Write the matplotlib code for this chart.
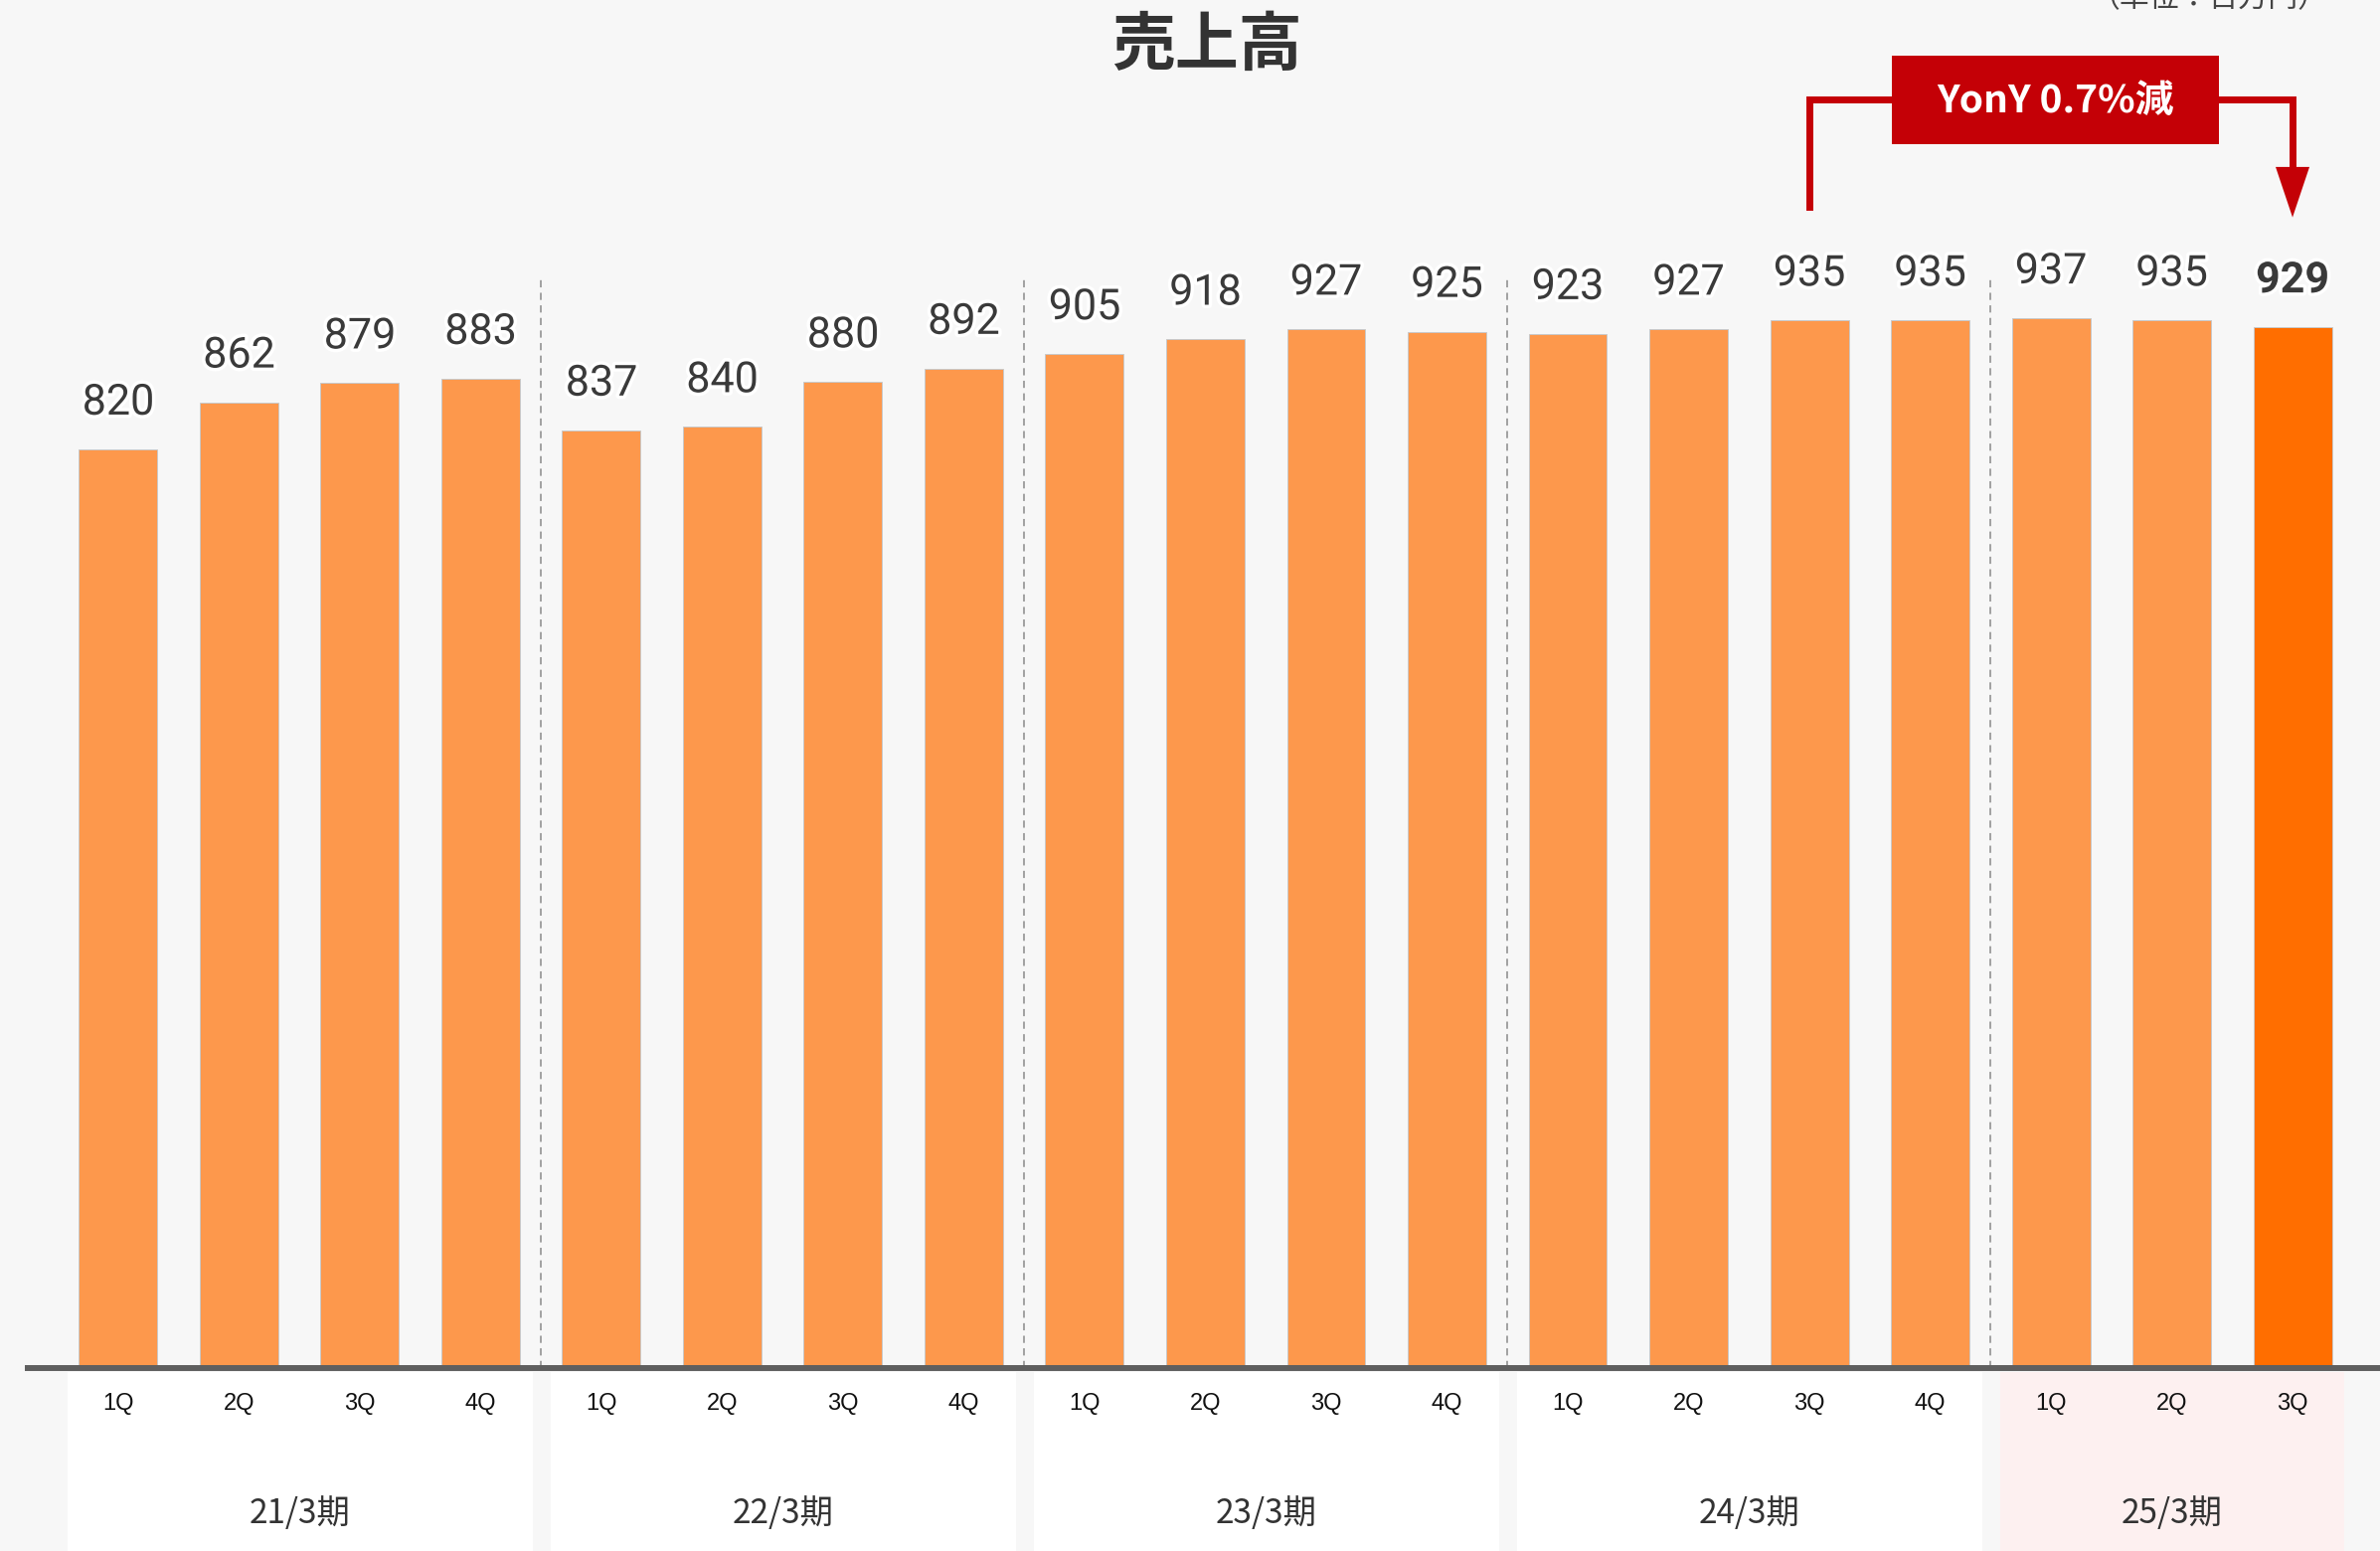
import matplotlib.pyplot as plt
import matplotlib.patheffects as pe
from matplotlib.patches import Rectangle, Polygon

# data
years = ["21/3期", "22/3期", "23/3期", "24/3期", "25/3期"]
quarters = ["1Q", "2Q", "3Q", "4Q",
            "1Q", "2Q", "3Q", "4Q",
            "1Q", "2Q", "3Q", "4Q",
            "1Q", "2Q", "3Q", "4Q",
            "1Q", "2Q", "3Q"]
sales = [820, 862, 879, 883,
         837, 840, 880, 892,
         905, 918, 927, 925,
         923, 927, 935, 935,
         937, 935, 929]
year_sizes = [4, 4, 4, 4, 3]
yoy_text = "YonY 0.7%減"
title = "売上高"
unit = "（単位：百万円）"

BG = "#f7f7f7"
BAR = "#fd984c"
BAR_HL = "#ff6e00"
RED = "#c40006"
JP = ["Noto Sans CJK JP", "DejaVu Sans"]

fig = plt.figure(figsize=(23.94, 15.6), dpi=100, facecolor=BG)
ax = fig.add_axes([0, 0, 1, 1])
ax.set_facecolor(BG)
ax.set_xlim(-0.979, 18.724)
ax.set_ylim(-163.3, 1221)
ax.axis("off")

x = list(range(len(sales)))
colors = [BAR] * (len(sales) - 1) + [BAR_HL]
ax.bar(x, sales, width=0.65, color=colors, edgecolor="#c9c9c9", linewidth=0.7, zorder=2)

# value labels
outline = [pe.withStroke(linewidth=5, foreground="white")]
for i, v in enumerate(sales):
    last = i == len(sales) - 1
    ax.text(i, v + 31, str(v), ha="center", va="baseline", fontsize=31,
            family="Roboto", fontweight="bold" if last else "normal",
            color="#3a3a3a", path_effects=outline, zorder=4)

# fiscal year boxes and labels
start = 0
for k, (name, n) in enumerate(zip(years, year_sizes)):
    x0 = start - 0.42
    x1 = start + n - 1 + 0.43
    fc = "#fdf0f0" if k == len(years) - 1 else "white"
    ax.add_patch(Rectangle((x0, -163.3), x1 - x0, 159.8, facecolor=fc,
                           edgecolor="none", zorder=1))
    ax.text(start + (n - 1) / 2, -130, name, ha="center", va="center",
            fontsize=24, family=JP, color="#333333", zorder=3)
    if start > 0:
        ax.plot([start - 0.5, start - 0.5], [0, 973], color="#9a9a9a", lw=1.3,
                linestyle=(0, (4, 3)), zorder=1)
    start += n

for i, q in enumerate(quarters):
    ax.text(i, -32, q, ha="center", va="center", fontsize=17,
            family="Liberation Sans", color="#111111", zorder=3)

# axis line
ax.plot([-0.77, 18.724], [0, 0], color="#5f5f5f", lw=4.3, zorder=3,
        solid_capstyle="butt")

# title and unit (unit label sits partly above the top edge, as in the source)
fig.text(0.507, 1 - 46 / 1560, title, ha="center", va="center", fontsize=46,
         fontweight="bold", family=JP, color="#333333")
fig.text(2222 / 2394, 1 + 1 / 1560, unit, ha="center", va="center",
         fontsize=21.5, family=JP, color="#444444")

# YonY bracket
i0, i1 = 14, len(sales) - 1
top = 1132
ax.plot([i0, i0, 14.68], [sales[i0] + 101, top, top], color=RED, lw=5,
        solid_joinstyle="miter", zorder=3)
ax.plot([16.0, i1, i1], [top, top, sales[i1] + 140], color=RED, lw=5,
        solid_joinstyle="miter", zorder=3)
ax.add_patch(Polygon([[i1 - 0.14, sales[i1] + 143], [i1 + 0.14, sales[i1] + 143],
                      [i1, sales[i1] + 98]], closed=True, facecolor=RED,
                     edgecolor="none", zorder=3))
ax.add_patch(Rectangle((14.68, 1092), 2.71, 79, facecolor=RED, edgecolor="none",
                       zorder=4))
ax.text(16.035, 1131, yoy_text, ha="center", va="center", fontsize=28,
        fontweight="bold", family=["Noto Sans CJK JP", "DejaVu Sans"],
        color="white", zorder=5)

fig.savefig("out.png", dpi=100, facecolor=BG)
